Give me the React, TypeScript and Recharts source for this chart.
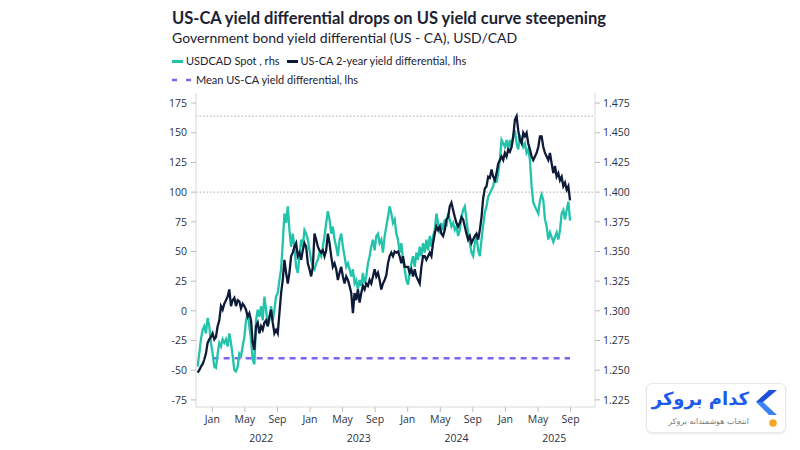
import React from 'react';
import { LineChart, Line, XAxis, YAxis, ReferenceLine } from 'recharts';

// sampling grid: months after Jan 2022 of the first sample, and spacing in months
const firstMonth = -1.805;
const stepMonths = 0.2051;

// USD/CAD spot (rhs)
const usdcadSpot = [
  1.253, 1.264, 1.276, 1.284, 1.287, 1.281, 1.294, 1.287, 1.273, 1.264,
  1.253, 1.252, 1.264, 1.273, 1.270, 1.276, 1.273, 1.276, 1.270, 1.281,
  1.273, 1.262, 1.250, 1.249, 1.253, 1.264, 1.262, 1.270, 1.278, 1.292,
  1.298, 1.287, 1.276, 1.259, 1.255, 1.292, 1.301, 1.295, 1.304, 1.292,
  1.312, 1.301, 1.287, 1.292, 1.304, 1.292, 1.301, 1.312, 1.315, 1.326,
  1.335, 1.357, 1.382, 1.374, 1.388, 1.368, 1.354, 1.365, 1.354, 1.337,
  1.332, 1.346, 1.360, 1.354, 1.368, 1.365, 1.360, 1.351, 1.343, 1.337,
  1.335, 1.340, 1.343, 1.349, 1.346, 1.354, 1.363, 1.374, 1.384, 1.377,
  1.365, 1.371, 1.360, 1.354, 1.346, 1.360, 1.365, 1.354, 1.346, 1.337,
  1.340, 1.335, 1.329, 1.335, 1.323, 1.326, 1.318, 1.326, 1.321, 1.332,
  1.323, 1.329, 1.340, 1.346, 1.354, 1.360, 1.351, 1.363, 1.365, 1.357,
  1.360, 1.349, 1.363, 1.371, 1.379, 1.388, 1.382, 1.374, 1.377, 1.365,
  1.360, 1.349, 1.357, 1.343, 1.335, 1.326, 1.322, 1.332, 1.340, 1.346,
  1.337, 1.349, 1.343, 1.354, 1.346, 1.357, 1.349, 1.360, 1.351, 1.363,
  1.354, 1.363, 1.368, 1.382, 1.374, 1.365, 1.374, 1.368, 1.377, 1.371,
  1.382, 1.377, 1.371, 1.374, 1.368, 1.371, 1.363, 1.368, 1.379, 1.385,
  1.388, 1.377, 1.365, 1.357, 1.349, 1.346, 1.357, 1.363, 1.351, 1.346,
  1.360, 1.372, 1.383, 1.388, 1.396, 1.399, 1.402, 1.405, 1.413, 1.408,
  1.416, 1.427, 1.444, 1.441, 1.438, 1.444, 1.436, 1.444, 1.438, 1.447,
  1.452, 1.441, 1.436, 1.447, 1.444, 1.438, 1.441, 1.433, 1.436, 1.427,
  1.405, 1.391, 1.388, 1.385, 1.382, 1.393, 1.398, 1.393, 1.377, 1.371,
  1.360, 1.366, 1.362, 1.358, 1.362, 1.366, 1.360, 1.368, 1.382, 1.385,
  1.377, 1.385, 1.392, 1.376,
];

// US-CA 2-year yield differential, bp (lhs)
const yieldDiff = [
  -52, -50, -47, -45, -41, -36, -27, -24, -22, -19,
  -24, -22, -13, -8, 4, 1, 6, 9, 12, 18,
  4, 9, 11, 4, 9, 8, 2, 6, 4, 1,
  -5, -2, -8, -27, -33, -13, -10, -19, -13, -16,
  -10, -8, -13, -5, 1, -10, -19, -16, -19, -2,
  15, 26, 43, 32, 23, 32, 46, 49, 54, 57,
  46, 49, 43, 51, 57, 54, 40, 35, 29, 37,
  65, 60, 54, 51, 49, 51, 46, 51, 65, 57,
  46, 37, 40, 35, 26, 32, 37, 29, 23, 29,
  26, 21, 15, -2, 15, 9, 18, 7, 15, 21,
  18, 23, 21, 26, 23, 29, 35, 29, 32, 26,
  18, 23, 26, 30, 40, 46, 49, 46, 50, 49,
  50, 46, 40, 46, 37, 37, 37, 32, 35, 29,
  35, 29, 26, 23, 37, 46, 46, 43, 46, 49,
  46, 57, 65, 71, 68, 71, 65, 63, 68, 77,
  79, 88, 91, 85, 79, 74, 71, 74, 79, 77,
  71, 65, 60, 63, 57, 60, 63, 65, 60, 68,
  79, 95, 103, 105, 113, 112, 119, 113, 110, 116,
  124, 127, 130, 127, 133, 130, 136, 134, 138, 147,
  161, 164, 152, 144, 141, 150, 147, 150, 141, 136,
  130, 127, 130, 133, 138, 147, 147, 138, 133, 130,
  127, 133, 124, 116, 122, 113, 116, 110, 113, 105,
  108, 102, 105, 93,
];

const meanDiff = -40;
const meanFromMonth = 0;

const monthTicks = [0, 4, 8, 12, 16, 20, 24, 28, 32, 36, 40, 44];
const monthLabels = ['Jan', 'May', 'Sep', 'Jan', 'May', 'Sep', 'Jan', 'May', 'Sep', 'Jan', 'May', 'Sep'];
const yearTicks = [6, 18, 30, 42];
const yearLabels = ['2022', '2023', '2024', '2025'];
const lhsTicks = [-75, -50, -25, 0, 25, 50, 75, 100, 125, 150, 175];
const rhsTicks = [1.225, 1.25, 1.275, 1.3, 1.325, 1.35, 1.375, 1.4, 1.425, 1.45, 1.475];

const data = yieldDiff.map((d, i) => {
  const m = firstMonth + i * stepMonths;
  return { m, diff: d, spot: usdcadSpot[i], mean: m >= meanFromMonth ? meanDiff : null };
});
const diffMax = Math.max(...yieldDiff);

const HEAD_FONT = 'Lato, "Open Sans", sans-serif';
const TICK_FONT = '"Open Sans", "Noto Sans", sans-serif';
const TEAL = '#22c3aa';
const NAVY = '#0d1a38';
const PURPLE = '#7d63f0';
const INK = '#1c2233';
const tickStyle = { fill: '#2b3145', fontSize: 10.5, fontFamily: TICK_FONT };

const App: React.FC = () => {
  return (
    <div style={{ position: 'absolute', left: 0, top: 0, width: 800, height: 450, background: '#fff', fontFamily: HEAD_FONT, color: INK }}>
      <div style={{ position: 'absolute', left: 172, top: 7, fontSize: 16.5, lineHeight: '22px', fontWeight: 700, whiteSpace: 'nowrap' }}>
        US-CA yield differential drops on US yield curve steepening
      </div>
      <div style={{ position: 'absolute', left: 172, top: 28, fontSize: 14, lineHeight: '20px', whiteSpace: 'nowrap' }}>
        Government bond yield differential (US - CA), USD/CAD
      </div>

      <div style={{ position: 'absolute', left: 172, top: 53, fontSize: 11, lineHeight: '16px', display: 'flex', alignItems: 'center', whiteSpace: 'nowrap' }}>
        <span style={{ display: 'inline-block', width: 11, height: 3, background: TEAL, marginRight: 3 }} />
        <span style={{ marginRight: 7 }}>USDCAD Spot , rhs</span>
        <span style={{ display: 'inline-block', width: 11, height: 3, background: NAVY, marginRight: 3 }} />
        <span>US-CA 2-year yield differential, lhs</span>
      </div>
      <div style={{ position: 'absolute', left: 172, top: 72, fontSize: 11, lineHeight: '16px', display: 'flex', alignItems: 'center', whiteSpace: 'nowrap' }}>
        <svg width={21} height={4} style={{ marginRight: 3 }}>
          <line x1={0} y1={2} x2={21} y2={2} stroke={PURPLE} strokeWidth={2.5} strokeDasharray="5 9" />
        </svg>
        <span>Mean US-CA yield differential, lhs</span>
      </div>

      <div style={{ position: 'absolute', left: 0, top: 0 }}>
        <LineChart width={800} height={450} data={data} margin={{ top: 93, right: 155, bottom: 3, left: 156 }}>
          <XAxis
            xAxisId="m"
            dataKey="m"
            type="number"
            domain={[-2, 47]}
            allowDataOverflow
            ticks={monthTicks}
            tickFormatter={(v: number) => monthLabels[monthTicks.indexOf(v)]}
            height={20}
            tickSize={5}
            tickMargin={4}
            axisLine={{ stroke: '#d9d9d9' }}
            tickLine={{ stroke: '#bdbdbd' }}
            tick={tickStyle}
            interval={0}
          />
          <XAxis
            xAxisId="y"
            dataKey="m"
            type="number"
            domain={[-2, 47]}
            allowDataOverflow
            ticks={yearTicks}
            tickFormatter={(v: number) => yearLabels[yearTicks.indexOf(v)]}
            height={20}
            axisLine={false}
            tickLine={false}
            tickMargin={2}
            tick={tickStyle}
            interval={0}
          />
          <YAxis
            yAxisId="l"
            orientation="left"
            domain={[-81, 183.5]}
            allowDataOverflow
            ticks={lhsTicks}
            width={40}
            tickSize={5}
            tickMargin={4}
            axisLine={{ stroke: '#d9d9d9' }}
            tickLine={{ stroke: '#bdbdbd' }}
            tick={tickStyle}
            interval={0}
          />
          <YAxis
            yAxisId="r"
            orientation="right"
            domain={[1.219, 1.4835]}
            allowDataOverflow
            ticks={rhsTicks}
            tickFormatter={(v: number) => v.toFixed(3)}
            width={50}
            tickSize={5}
            tickMargin={3}
            axisLine={{ stroke: '#d9d9d9' }}
            tickLine={{ stroke: '#bdbdbd' }}
            tick={tickStyle}
            interval={0}
          />
          <ReferenceLine xAxisId="m" yAxisId="l" y={diffMax} stroke="#a8a8a8" strokeDasharray="1.5 2" />
          <ReferenceLine xAxisId="m" yAxisId="l" y={100} stroke="#a8a8a8" strokeDasharray="1.5 2" />
          <Line xAxisId="m" yAxisId="l" dataKey="mean" stroke={PURPLE} strokeWidth={2.5} strokeDasharray="6 5" dot={false} connectNulls isAnimationActive={false} />
          <Line xAxisId="m" yAxisId="r" dataKey="spot" type="linear" stroke={TEAL} strokeWidth={2.3} dot={false} isAnimationActive={false} />
          <Line xAxisId="m" yAxisId="l" dataKey="diff" type="linear" stroke={NAVY} strokeWidth={2.3} dot={false} isAnimationActive={false} />
        </LineChart>
      </div>

      <div style={{ position: 'absolute', left: 646, top: 383, width: 138, height: 48, border: '1px solid #e8e8e8', borderRadius: 6, boxShadow: '0 1px 3px rgba(0,0,0,0.08)', background: '#fff' }}>
        <div dir="rtl" style={{ position: 'absolute', right: 36, top: 3, fontFamily: '"DejaVu Sans", sans-serif', fontSize: 18, fontWeight: 700, color: '#1d5bea', whiteSpace: 'nowrap', lineHeight: '24px' }}>
          کدام بروکر
        </div>
        <div dir="rtl" style={{ position: 'absolute', right: 36, top: 32, fontFamily: '"DejaVu Sans", sans-serif', fontSize: 8, color: '#7a7a7a', whiteSpace: 'nowrap', lineHeight: '12px' }}>
          انتخاب هوشمندانه بروکر
        </div>
        <svg width={28} height={46} style={{ position: 'absolute', left: 108, top: 5 }}>
          <polygon points="22,1 14,1 1,13 8,13" fill="#1d4fd8" />
          <polygon points="1,13 8,13 22,26 14,26" fill="#3b82f6" />
          <circle cx={18} cy={34} r={3.8} fill="#f5a623" />
        </svg>
      </div>
    </div>
  );
};

export default App;
